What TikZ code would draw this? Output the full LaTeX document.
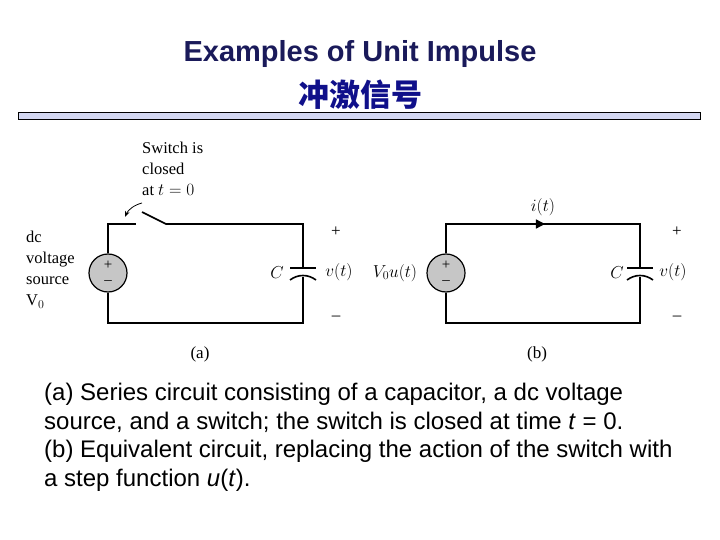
\documentclass[tikz,border=0pt]{standalone}
\usepackage{fontspec}
\setmainfont{Liberation Serif}
\newfontfamily\arialf{Liberation Sans}
\newfontfamily\cjk{Noto Sans CJK SC}
\usetikzlibrary{arrows.meta,decorations.markings}
\definecolor{navy}{HTML}{1A1A5A}
\definecolor{cjkblue}{HTML}{10108A}
\definecolor{barfill}{HTML}{D4D8F2}
\begin{document}
\begin{tikzpicture}[x=1pt,y=-1pt,
  wire/.style={line width=1.6pt},
  src/.style={circle,draw,line width=1.2pt,fill=gray!45,minimum size=38pt,inner sep=0pt},
  pm/.style={font=\fontsize{15}{15}\selectfont,inner sep=0pt},
  lbl/.style={font=\fontsize{17}{18}\selectfont,inner sep=1pt},
  body/.style={font=\arialf\fontsize{24}{28.5}\selectfont,align=left,anchor=north west,inner sep=0pt}]
\useasboundingbox (0,0) rectangle (720,540);
\node[font=\arialf\bfseries\fontsize{29}{32}\selectfont,text=navy] (t1) at (360,54) {Examples of Unit Impulse};
\node[font=\cjk\bfseries\fontsize{31}{34}\selectfont,text=cjkblue] (t2) at (360,95) {冲激信号};
\draw[fill=barfill,line width=0.6pt] (18,112) rectangle (700,119);
% circuit a
\node[src] (sa) at (108,273) {};
\node[pm] (sap) at (108,265) {+};
\node[pm] (sam) at (108,283) {--};
\coordinate (atl) at (108,224); \coordinate (sw1) at (136,224);
\coordinate (sw2) at (142,212); \coordinate (sw3) at (166,224);
\coordinate (atr) at (303,224); \coordinate (abr) at (303,323); \coordinate (abl) at (108,323);
\draw[wire] (sa.north) -- (atl) -- (sw1);
\draw[wire] (sw2) -- (sw3) -- (atr) -- (303,268);
\draw[wire] (303,277) -- (abr) -- (abl) -- (sa.south);
\draw[wire] (290,268) -- (316,268);
\draw[wire] (290,280) .. controls (298,274) and (308,274) .. (316,280);
\draw[-{Stealth[length=6pt]},line width=0.8pt] (142,203) .. controls (134,205) and (128,210) .. (125,217);
\node[lbl,align=left,anchor=north west,font=\fontsize{16.5}{21}\selectfont] at (141,141) {Switch is\\closed\\at $t=0$};
\node[lbl,align=left,anchor=north west,font=\fontsize{16.5}{21}\selectfont] at (25,230) {dc\\voltage\\source\\$\mathrm{V}_0$};
\node[lbl] at (277,273) {$C$};
\node[lbl] at (339,272) {$v(t)$};
\node[lbl] at (336,232) {+};
\node[lbl] at (336,318) {--};
\node[lbl] at (200,354) {(a)};
% circuit b
\node[src] (sb) at (446,273) {};
\node[pm] (sbp) at (446,265) {+};
\node[pm] (sbm) at (446,283) {--};
\draw[wire,postaction={decorate},decoration={markings,mark=at position 0.48 with {\arrow{Triangle[length=9pt,width=9pt]}}}] (sb.north) -- (446,224) -- (640,224) -- (640,268);
\draw[wire] (640,277) -- (640,323) -- (446,323) -- (sb.south);
\draw[wire] (627,268) -- (653,268);
\draw[wire] (627,280) .. controls (635,274) and (645,274) .. (653,280);
\node[lbl] at (543,207) {$i(t)$};
\node[lbl] at (395,273) {$V_0u(t)$};
\node[lbl] at (617,273) {$C$};
\node[lbl] at (673,272) {$v(t)$};
\node[lbl] at (677,232) {+};
\node[lbl] at (677,318) {--};
\node[lbl] at (537,354) {(b)};
\node[body] at (44,383) {(a) Series circuit consisting of a capacitor, a dc voltage\\source, and a switch; the switch is closed at time \textit{t} = 0.\\(b) Equivalent circuit, replacing the action of the switch with\\a step function \textit{u}(\textit{t}).};
\end{tikzpicture}
\end{document}
